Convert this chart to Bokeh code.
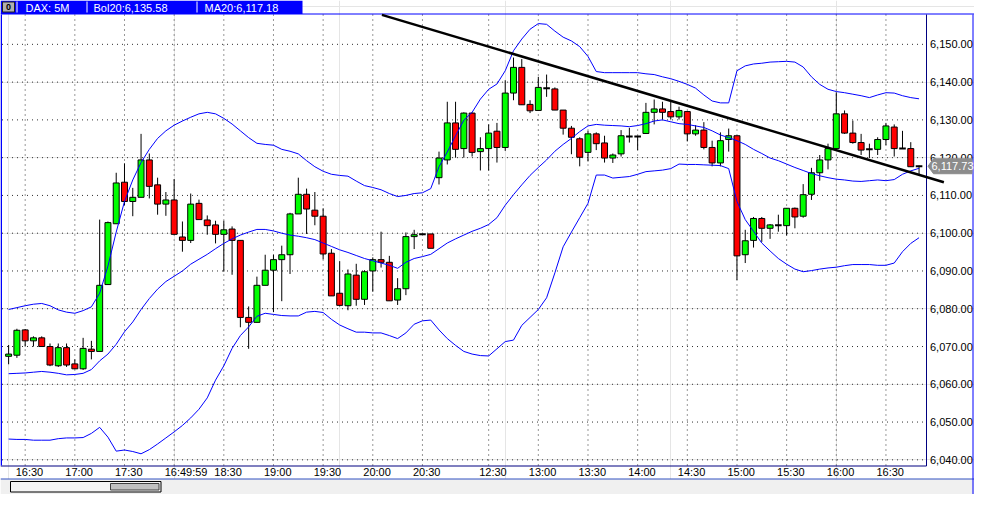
from bokeh.plotting import figure
from bokeh.models import Range1d
from bokeh.core.properties import value
from bokeh.embed import file_html
from bokeh.resources import INLINE

# ---------------- data ----------------
opens = [6067.4, 6067.7, 6074.4, 6071.5, 6072.3, 6070.0, 6064.9, 6069.7, 6065.4, 6064.1,
         6069.3, 6068.7, 6086.4, 6102.5, 6113.5, 6108.4, 6109.5, 6119.4, 6112.8, 6107.7,
         6108.8, 6099.0, 6098.1, 6107.9, 6103.5, 6102.2, 6099.7, 6101.1, 6098.1, 6077.7,
         6076.4, 6086.2, 6090.2, 6093.0, 6094.3, 6105.1, 6110.3, 6106.1, 6104.5, 6094.7,
         6084.1, 6080.8, 6088.9, 6082.5, 6090.0, 6093.0, 6092.3, 6082.3, 6085.3, 6099.1,
         6099.7, 6099.8, 6114.7, 6119.4, 6129.2, 6122.4, 6131.8, 6121.6, 6122.4, 6127.0,
         6122.7, 6137.1, 6143.9, 6134.1, 6132.5, 6138.4, 6138.2, 6132.6, 6127.8, 6125.0,
         6121.4, 6126.3, 6123.9, 6119.9, 6121.0, 6125.6, 6125.6, 6126.4, 6132.0, 6132.9,
         6132.2, 6130.8, 6132.2, 6126.3, 6127.3, 6122.7, 6118.6, 6124.8, 6125.8, 6094.3,
         6098.1, 6103.9, 6101.3, 6102.1, 6102.0, 6106.6, 6104.5, 6110.3, 6116.0, 6119.4,
         6122.4, 6131.6, 6126.5, 6124.0, 6122.2, 6122.2, 6124.8, 6128.1, 6122.4, 6122.4,
         6117.73]
highs = [6070.4, 6074.7, 6074.6, 6072.7, 6072.7, 6070.8, 6070.8, 6070.8, 6066.6, 6072.3,
         6071.5, 6103.6, 6103.1, 6116.0, 6118.5, 6112.0, 6126.3, 6121.1, 6114.7, 6110.9,
         6114.3, 6103.1, 6110.5, 6108.9, 6104.7, 6103.3, 6103.3, 6101.8, 6098.1, 6080.6,
         6088.5, 6094.3, 6094.3, 6096.7, 6105.4, 6114.7, 6111.8, 6110.9, 6106.6, 6095.8,
         6092.6, 6090.4, 6091.9, 6090.2, 6093.6, 6100.4, 6094.0, 6088.1, 6100.2, 6100.9,
         6099.7, 6099.8, 6121.6, 6134.8, 6134.8, 6132.0, 6132.0, 6125.4, 6128.8, 6129.2,
         6140.5, 6146.5, 6146.1, 6135.2, 6141.4, 6142.0, 6138.6, 6132.6, 6128.4, 6125.4,
         6127.1, 6126.7, 6125.8, 6121.1, 6127.3, 6127.9, 6125.8, 6134.5, 6135.4, 6134.8,
         6134.8, 6133.5, 6132.2, 6128.6, 6129.4, 6124.5, 6126.7, 6127.7, 6125.8, 6100.9,
         6104.3, 6104.3, 6102.4, 6104.9, 6106.6, 6106.8, 6113.0, 6117.3, 6120.7, 6123.7,
         6137.3, 6132.5, 6129.8, 6126.3, 6123.7, 6125.4, 6129.2, 6128.8, 6127.1, 6124.1,
         6117.9]
lows = [6065.3, 6067.0, 6070.0, 6070.0, 6070.0, 6064.8, 6064.6, 6064.6, 6064.1, 6063.8,
        6066.6, 6068.7, 6086.4, 6102.5, 6107.4, 6104.5, 6109.5, 6109.2, 6104.9, 6104.6,
        6099.7, 6095.1, 6097.4, 6103.6, 6099.6, 6097.3, 6089.8, 6089.0, 6075.1, 6069.4,
        6076.4, 6086.2, 6079.1, 6082.0, 6089.2, 6105.1, 6099.8, 6102.1, 6093.1, 6083.4,
        6080.6, 6079.6, 6080.8, 6081.0, 6084.5, 6090.9, 6082.1, 6081.0, 6083.6, 6095.8,
        6099.7, 6096.0, 6112.9, 6118.2, 6120.0, 6120.0, 6120.3, 6116.6, 6116.6, 6118.7,
        6121.8, 6135.2, 6134.0, 6131.8, 6132.5, 6136.1, 6132.6, 6126.1, 6120.9, 6117.7,
        6119.0, 6122.0, 6118.7, 6118.6, 6120.3, 6124.0, 6122.0, 6126.4, 6128.8, 6130.1,
        6130.1, 6130.1, 6124.3, 6125.8, 6122.2, 6117.7, 6117.7, 6121.6, 6087.6, 6092.1,
        6096.2, 6097.7, 6098.5, 6100.4, 6099.4, 6101.3, 6104.1, 6108.8, 6113.9, 6116.9,
        6122.4, 6126.3, 6123.7, 6120.7, 6119.9, 6120.7, 6123.3, 6120.3, 6122.4, 6117.6,
        6115.6]
closes = [6068.0, 6074.3, 6071.5, 6072.3, 6070.0, 6065.1, 6069.7, 6065.1, 6064.1, 6069.5,
          6068.7, 6086.2, 6102.8, 6113.3, 6108.4, 6109.5, 6119.4, 6112.4, 6107.7, 6108.8,
          6099.7, 6098.1, 6107.7, 6103.6, 6102.0, 6099.7, 6100.9, 6098.1, 6077.7, 6076.4,
          6086.2, 6090.2, 6093.0, 6094.3, 6105.1, 6110.3, 6106.4, 6104.5, 6094.5, 6083.4,
          6080.9, 6089.2, 6082.5, 6089.8, 6093.0, 6092.3, 6082.1, 6085.3, 6099.1, 6099.6,
          6099.7, 6096.0, 6119.9, 6129.2, 6122.2, 6131.8, 6121.4, 6122.4, 6126.5, 6122.7,
          6137.1, 6143.9, 6134.0, 6132.4, 6138.6, 6138.4, 6132.6, 6127.8, 6125.4, 6120.1,
          6126.3, 6123.7, 6119.9, 6120.7, 6125.8, 6125.6, 6125.6, 6132.0, 6132.9, 6132.0,
          6130.8, 6132.5, 6126.3, 6127.3, 6122.7, 6118.6, 6124.5, 6125.8, 6094.0, 6098.0,
          6103.9, 6101.3, 6102.2, 6102.1, 6106.6, 6104.3, 6110.2, 6116.0, 6119.4, 6122.4,
          6131.6, 6126.5, 6124.0, 6122.0, 6122.2, 6124.8, 6128.4, 6122.4, 6122.4, 6117.6,
          6117.73]

bb_upper = [6079.8, 6080.3, 6080.8, 6081.2, 6081.4, 6080.8, 6079.7, 6079.1, 6078.8, 6079.5,
            6080.5, 6084.1, 6091.3, 6100.3, 6108.4, 6114.1, 6118.7, 6122.2, 6125.1, 6127.1,
            6128.6, 6129.7, 6130.7, 6131.6, 6132.0, 6131.6, 6130.4, 6128.9, 6127.1, 6125.3,
            6123.8, 6123.5, 6123.3, 6122.2, 6121.7, 6121.0, 6119.2, 6117.6, 6116.4, 6115.6,
            6115.3, 6115.1, 6113.8, 6112.6, 6112.1, 6111.5, 6110.5, 6109.7, 6110.0, 6110.5,
            6110.7, 6111.8, 6117.6, 6121.5, 6125.8, 6129.9, 6132.0, 6135.5, 6138.1, 6139.5,
            6143.0, 6148.3, 6151.4, 6154.0, 6155.5, 6155.3, 6153.5, 6151.9, 6150.9, 6149.4,
            6146.8, 6142.8, 6142.5, 6142.5, 6142.5, 6142.5, 6142.5, 6142.2, 6142.0, 6141.4,
            6140.9, 6140.2, 6139.4, 6138.4, 6136.6, 6135.0, 6134.5, 6134.5, 6143.0, 6144.3,
            6144.8, 6145.0, 6145.3, 6145.4, 6145.5, 6145.3, 6144.0, 6141.4, 6139.4, 6138.1,
            6137.5, 6137.2, 6136.8, 6136.4, 6135.9, 6136.6, 6137.2, 6137.1, 6136.4, 6135.9,
            6135.58]
bb_middle = [6062.8, 6062.9, 6063.0, 6063.2, 6063.4, 6063.2, 6062.9, 6062.5, 6062.6, 6062.9,
             6063.9, 6066.2, 6068.0, 6070.6, 6073.9, 6076.5, 6079.8, 6082.7, 6085.2, 6087.2,
             6088.6, 6090.0, 6091.8, 6093.1, 6094.4, 6095.9, 6097.3, 6098.5, 6099.5, 6100.3,
             6101.0, 6101.0, 6100.6, 6100.0, 6099.5, 6099.2, 6098.8, 6098.3, 6097.4, 6096.5,
             6095.6, 6094.9, 6094.1, 6093.3, 6092.7, 6092.1, 6091.5, 6090.7, 6092.3, 6093.3,
             6093.8, 6094.4, 6095.9, 6097.4, 6098.5, 6099.5, 6100.5, 6101.3, 6102.3, 6104.1,
             6107.4, 6110.2, 6112.8, 6115.3, 6117.4, 6119.4, 6121.7, 6123.5, 6125.1, 6126.9,
             6128.4, 6128.8, 6128.6, 6128.5, 6128.4, 6128.2, 6128.5, 6129.0, 6129.7, 6130.0,
             6129.5, 6129.0, 6128.8, 6128.4, 6128.0, 6127.1, 6126.0, 6125.3, 6124.5, 6123.5,
             6122.2, 6121.1, 6119.9, 6119.2, 6118.3, 6117.4, 6116.6, 6115.8, 6115.2, 6114.7,
             6114.3, 6114.1, 6113.8, 6113.7, 6113.9, 6114.1, 6113.9, 6114.2, 6115.6, 6116.5,
             6117.18]
bb_lower = [6045.5, 6045.4, 6045.4, 6045.2, 6045.2, 6045.2, 6045.6, 6045.8, 6045.8, 6045.9,
            6047.0, 6048.6, 6046.0, 6042.3, 6042.6, 6042.2, 6041.6, 6042.7, 6044.2, 6045.8,
            6047.4, 6049.1, 6051.1, 6053.4, 6056.4, 6061.1, 6064.9, 6069.5, 6072.9, 6075.2,
            6078.0, 6078.8, 6078.5, 6078.2, 6078.1, 6078.1, 6079.1, 6079.3, 6079.0, 6077.2,
            6075.7, 6074.7, 6073.8, 6073.8, 6073.6, 6073.6, 6072.9, 6072.1, 6073.6, 6075.9,
            6076.8, 6077.0, 6074.4, 6072.1, 6070.3, 6068.7, 6068.0, 6067.6, 6067.5, 6069.4,
            6071.3, 6071.7, 6075.6, 6077.7, 6079.8, 6082.9, 6089.5, 6096.4, 6100.3, 6104.1,
            6107.9, 6115.4, 6115.4, 6114.6, 6114.8, 6115.0, 6115.6, 6116.3, 6116.5, 6116.7,
            6117.1, 6118.3, 6118.2, 6118.2, 6118.1, 6118.0, 6117.9, 6117.1, 6108.4, 6103.6,
            6100.5, 6097.4, 6095.3, 6093.3, 6091.8, 6090.5, 6089.8, 6090.1, 6090.5, 6090.8,
            6091.0, 6091.4, 6091.7, 6091.7, 6091.7, 6091.5, 6091.5, 6092.1, 6095.1, 6097.3,
            6098.8]

time_tick_index = [2, 8, 14, 20, 26, 32, 38, 44, 50, 58, 64, 70, 76, 82, 88, 94, 100, 106]
time_tick_labels = ["16:30", "17:00", "17:30", "16:49:59", "18:30", "19:00", "19:30", "20:00",
                    "20:30", "12:30", "13:00", "13:30", "14:00", "14:30", "15:00", "15:30",
                    "16:00", "16:30"]
price_ticks = [6040, 6050, 6060, 6070, 6080, 6090, 6100, 6110, 6120, 6130, 6140, 6150]
trend_x = [45.1, 113.0]
trend_y = [6157.8, 6113.5]
header_texts = ["DAX: 5M", "Bol20:6,135.58", "MA20:6,117.18"]
last_price = 6117.73

# ---------------- layout (pixels inside the figure) ----------------
W, H = 974, 494
PL, PR, PT, PB = 1.5, 926.0, 14.0, 465.0
X_LO, X_HI = -0.8, 110.9
Y_LO, Y_HI = 6038.5, 6157.9
kx = (PR - PL) / (X_HI - X_LO)
ky = (PB - PT) / (Y_HI - Y_LO)

FONT = value("Liberation Sans")
FS = value("11px")

p = figure(width=W, height=H,
           x_range=Range1d(X_LO - PL / kx, X_HI + (W - PR) / kx),
           y_range=Range1d(Y_LO - (H - PB) / ky, Y_HI + PT / ky),
           output_backend="svg", toolbar_location=None,
           x_axis_location=None, y_axis_location=None, min_border=0)
p.min_border_left = p.min_border_right = p.min_border_top = p.min_border_bottom = 0
p.outline_line_color = None
p.background_fill_color = "white"
p.border_fill_color = "white"
p.extra_x_ranges = {"px": Range1d(0, W)}
p.extra_y_ranges = {"py": Range1d(H, 0)}

BLUE = "#0000FF"
NAVY = "#000080"

# bottom grey strip + scrollbar
p.quad(left=[0], right=[W], top=[478.5], bottom=[H], fill_color="#F0F0F0", line_color=None,
       x_range_name="px", y_range_name="py")
p.quad(left=[10], right=[160.5], top=[481], bottom=[491.5], fill_color="#F4F4F4",
       line_color="black", line_width=1, x_range_name="px", y_range_name="py")
p.quad(left=[110], right=[158.5], top=[483], bottom=[489.5], fill_color="#C0C0C0",
       line_color="#404040", line_width=1, x_range_name="px", y_range_name="py")

# grid
n_t = len(time_tick_index)
p.segment(x0=time_tick_index, x1=time_tick_index, y0=[PT] * n_t, y1=[PB] * n_t,
          y_range_name="py", line_color="#303030", line_dash="1 4", line_width=1)
n_p = len(price_ticks)
p.segment(x0=[PL] * n_p, x1=[PR] * n_p, y0=price_ticks, y1=price_ticks,
          x_range_name="px", line_color="#303030", line_dash="1 4", line_width=1)

# candles
idx = list(range(len(closes)))
ux = [i for i in idx if closes[i] > opens[i]]
dx = [i for i in idx if closes[i] < opens[i]]
zx = [i for i in idx if closes[i] == opens[i]]
p.segment(x0=idx, x1=idx, y0=lows, y1=highs, line_color="black", line_width=1)
p.vbar(x=ux, width=0.72, bottom=[opens[i] for i in ux], top=[closes[i] for i in ux],
       fill_color="#00FF00", line_color="black", line_width=1)
p.vbar(x=dx, width=0.72, bottom=[closes[i] for i in dx], top=[opens[i] for i in dx],
       fill_color="#FF0000", line_color="black", line_width=1)
p.segment(x0=[i - 0.4 for i in zx], x1=[i + 0.4 for i in zx],
          y0=[closes[i] for i in zx], y1=[closes[i] for i in zx],
          line_color="black", line_width=2)

# Bollinger bands
for band in (bb_upper, bb_middle, bb_lower):
    p.line(idx, band, line_color=BLUE, line_width=1)

# frame lines
p.segment(x0=[0, 0, PR, 0, W - 1.5, 0.75], x1=[W, PR, PR, W, W - 1.5, 0.75],
          y0=[13.5, PB + 0.5, PT, 478.5, PT, PT], y1=[13.5, PB + 0.5, PB + 0.5, 478.5, H, PB],
          line_color=[BLUE, NAVY, NAVY, "#3050C0", BLUE, BLUE],
          line_width=[1, 1, 1, 1, 1, 1.5], x_range_name="px", y_range_name="py")

# header
p.quad(left=[0], right=[302], top=[0], bottom=[13.5], fill_color=BLUE, line_color=None,
       x_range_name="px", y_range_name="py")
p.quad(left=[2], right=[14], top=[1.5], bottom=[11.5], fill_color="#B0B0B0",
       line_color="#202020", line_width=1, x_range_name="px", y_range_name="py")
p.text(x=[8], y=[6.8], text=["0"], text_align="center", text_baseline="middle",
       text_font=FONT, text_font_size=value("9px"), text_font_style="bold",
       text_color="black", x_range_name="px", y_range_name="py")
p.segment(x0=[16.5, 86.5, 196.5], x1=[16.5, 86.5, 196.5], y0=[1, 1, 1], y1=[12, 12, 12],
          line_color="white", line_width=1, x_range_name="px", y_range_name="py")
p.text(x=[25, 93, 204], y=[7, 7, 7], text=header_texts, text_align="left",
       text_baseline="middle", text_font=FONT, text_font_size=FS, text_color="white",
       x_range_name="px", y_range_name="py")

# axis labels
p.text(x=[PR + 3.5] * n_p, y=price_ticks, text=[f"{v:,.2f}" for v in price_ticks],
       text_align="left", text_baseline="middle", text_font=FONT, text_font_size=FS,
       text_color="black", x_range_name="px")
p.text(x=time_tick_index, y=[471.5] * n_t, text=time_tick_labels, x_offset=-9.5,
       text_align="left", text_baseline="middle", text_font=FONT, text_font_size=FS,
       text_color="black", y_range_name="py")

# last price marker
hh = 7.5 / ky
tip = 6.0 / ky
p.patch(x=[PR + 1.5, PR + 7, W - 2.5, W - 2.5, PR + 7],
        y=[last_price, last_price + hh, last_price + hh, last_price - hh, last_price - hh],
        fill_color="#8C8C8C", line_color="#8C8C8C", x_range_name="px")
p.text(x=[PR + 5], y=[last_price], text=[f"{last_price:,.2f}"], text_align="left",
       text_baseline="middle", text_font=FONT, text_font_size=FS, text_color="white",
       x_range_name="px")

# trend line
p.line(trend_x, trend_y, line_color="black", line_width=2.5)

open("out.html", "w").write(file_html(p, INLINE, title="DAX 5M"))
